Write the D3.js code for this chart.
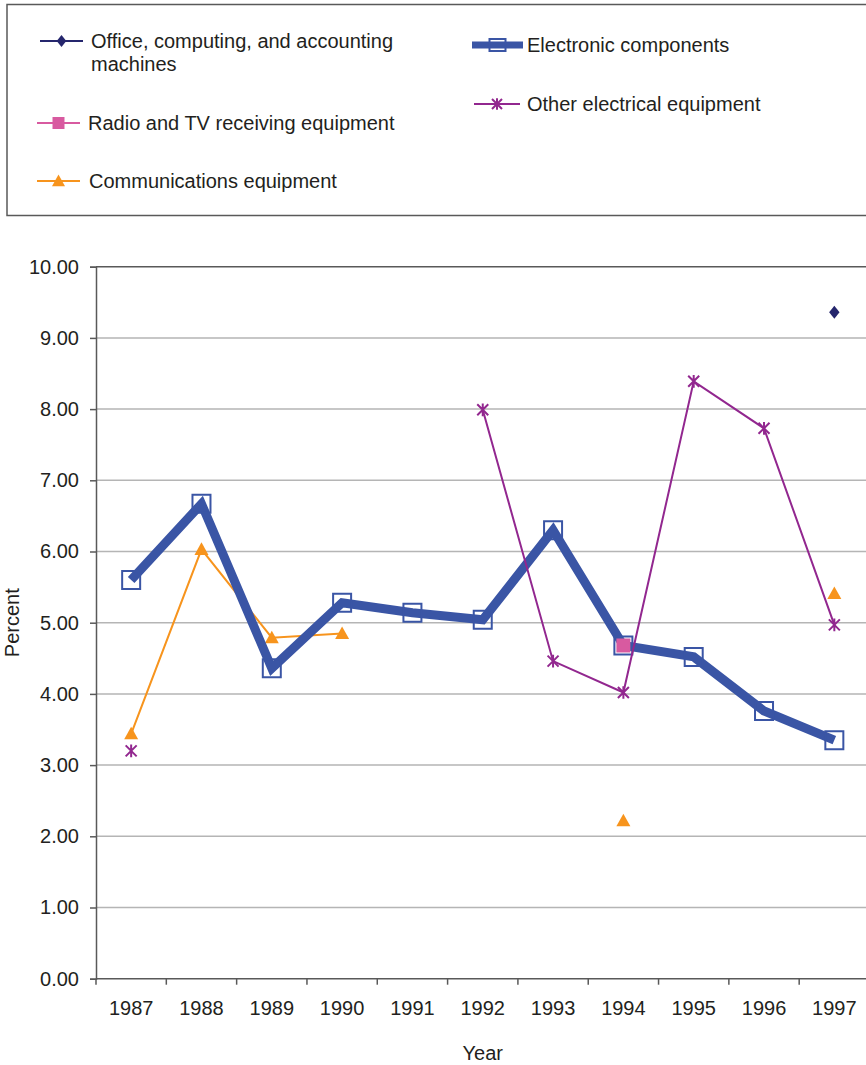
<!DOCTYPE html>
<html>
<head>
<meta charset="utf-8">
<script src="https://cdn.jsdelivr.net/npm/d3@7"></script>
<style>
  html, body { margin: 0; padding: 0; background: #fff; }
  svg { display: block; font-family: "Liberation Sans", Arial, Helvetica, sans-serif; }
</style>
</head>
<body>
<svg id="chart" width="866" height="1065"></svg>
<script>
// Annual percentages by industry, 1987–1997 (null = no value reported)
const years = ["1987", "1988", "1989", "1990", "1991", "1992", "1993", "1994", "1995", "1996", "1997"];
const office = [null, null, null, null, null, null, null, null, null, null, 9.36];
const electronic = [5.60, 6.67, 4.36, 5.28, 5.14, 5.04, 6.30, 4.68, 4.52, 3.76, 3.35];
const radioTv = [null, null, null, null, null, null, null, 4.68, null, null, null];
const communications = [3.44, 6.03, 4.79, 4.85, null, null, null, 2.22, null, null, 5.41];
const otherElectrical = [3.20, null, null, null, null, 7.99, 4.46, 4.02, 8.39, 7.73, 4.97];
const yTicks = [0, 1, 2, 3, 4, 5, 6, 7, 8, 9, 10];

const svg = d3.select("#chart");
const textColor = "#231f20";
const axisColor = "#595959";
const gridColor = "#b5b5b5";
const fontSize = 20;
const colors = {
  office: "#25266d",
  electronic: "#3a55a5",
  radio: "#d85aa0",
  comm: "#f7941d",
  other: "#92278f"
};

const plot = { left: 96, right: 869.5, top: 266.7, bottom: 978.7 };
const x = d3.scaleBand().domain(years).range([plot.left, plot.right]).padding(0);
const y = d3.scaleLinear().domain([0, 10]).range([plot.bottom, plot.top]);
const cx = yr => x(yr) + x.bandwidth() / 2;

// Horizontal gridlines
svg.append("g")
  .selectAll("line")
  .data(yTicks.filter(t => t > 0))
  .join("line")
  .attr("x1", plot.left).attr("x2", plot.right)
  .attr("y1", d => y(d)).attr("y2", d => y(d))
  .attr("stroke", d => d === 10 ? axisColor : gridColor)
  .attr("stroke-width", 1.5);

// Y axis
const yAxis = svg.append("g")
  .attr("transform", `translate(${plot.left},0)`)
  .call(d3.axisLeft(y).tickValues(yTicks).tickFormat(d3.format(".2f")).tickSize(6).tickPadding(11));
yAxis.select(".domain").attr("stroke", axisColor).attr("stroke-width", 1.5);
yAxis.selectAll(".tick line").attr("stroke", axisColor).attr("stroke-width", 1.5);
yAxis.selectAll(".tick text")
  .attr("fill", textColor).attr("font-size", fontSize).attr("font-family", null);

// X axis: ticks sit on category boundaries, labels at band centres
const xAxisG = svg.append("g").attr("transform", `translate(0,${plot.bottom})`);
xAxisG.append("line")
  .attr("x1", plot.left).attr("x2", plot.right)
  .attr("stroke", axisColor).attr("stroke-width", 1.5);
xAxisG.selectAll("line.tk")
  .data(years)
  .join("line").attr("class", "tk")
  .attr("x1", d => x(d)).attr("x2", d => x(d))
  .attr("y1", 0).attr("y2", 6)
  .attr("stroke", axisColor).attr("stroke-width", 1.5);
xAxisG.selectAll("text")
  .data(years)
  .join("text")
  .attr("x", d => cx(d)).attr("y", 36)
  .attr("text-anchor", "middle")
  .attr("font-size", fontSize).attr("fill", textColor)
  .text(d => d);

// Axis titles
svg.append("text")
  .attr("x", (plot.left + plot.right) / 2).attr("y", 1060)
  .attr("text-anchor", "middle").attr("font-size", fontSize).attr("fill", textColor)
  .text("Year");
svg.append("text")
  .attr("transform", `translate(19,${(plot.top + plot.bottom) / 2}) rotate(-90)`)
  .attr("text-anchor", "middle").attr("font-size", fontSize).attr("fill", textColor)
  .text("Percent");

// Marker shapes
const markerPath = {
  diamond: s => `M0,${-s}L${s * 0.8},0L0,${s}L${-s * 0.8},0Z`,
  square: s => `M${-s},${-s}H${s}V${s}H${-s}Z`,
  triangle: s => `M0,${-s}L${s},${s * 0.8}H${-s}Z`,
  asterisk: s => `M${-s},${-s}L${s},${s}M${s},${-s}L${-s},${s}M0,${-s * 1.15}V${s * 1.15}`
};

function drawMarker(g, kind, px, py, color, legend) {
  if (kind === "office") {
    g.append("path").attr("d", markerPath.diamond(legend ? 6 : 6.5))
      .attr("transform", `translate(${px},${py})`).attr("fill", color);
  } else if (kind === "electronic") {
    const s = legend ? 8 : 9;
    g.append("path").attr("d", legend ? `M${-s},${-6}H${s}V${6}H${-s}Z` : markerPath.square(s))
      .attr("transform", `translate(${px},${py})`)
      .attr("fill", "none").attr("stroke", color).attr("stroke-width", 2);
  } else if (kind === "radio") {
    g.append("path").attr("d", markerPath.square(legend ? 6 : 7))
      .attr("transform", `translate(${px},${py})`).attr("fill", color);
  } else if (kind === "comm") {
    g.append("path").attr("d", markerPath.triangle(legend ? 6.5 : 7))
      .attr("transform", `translate(${px},${py})`).attr("fill", color);
  } else if (kind === "other") {
    g.append("path").attr("d", markerPath.asterisk(legend ? 5 : 5.5))
      .attr("transform", `translate(${px},${py})`)
      .attr("fill", "none").attr("stroke", color).attr("stroke-width", 2);
  }
}

const line = d3.line()
  .defined(d => d.v !== null)
  .x(d => cx(d.year))
  .y(d => y(d.v));

const series = [
  { key: "comm", values: communications, width: 2 },
  { key: "electronic", values: electronic, width: 9 },
  { key: "office", values: office, width: 2 },
  { key: "other", values: otherElectrical, width: 2 },
  { key: "radio", values: radioTv, width: 2 }
];

series.forEach(s => {
  const g = svg.append("g");
  const pts = years.map((yr, i) => ({ year: yr, v: s.values[i] }));
  g.append("path")
    .datum(pts)
    .attr("d", line)
    .attr("fill", "none")
    .attr("stroke", colors[s.key])
    .attr("stroke-width", s.width)
    .attr("stroke-linejoin", "miter");
  pts.filter(p => p.v !== null).forEach(p => drawMarker(g, s.key, cx(p.year), y(p.v), colors[s.key], false));
});

// Legend
const legend = svg.append("g");
legend.append("rect")
  .attr("x", 7).attr("y", 4.5).attr("width", 870).attr("height", 211)
  .attr("fill", "none").attr("stroke", axisColor).attr("stroke-width", 1.5);

const legendItems = [
  { key: "office", lx: 40, rx: 83, my: 41, tx: 91, lines: ["Office, computing, and accounting", "machines"], ty: 48, w: 2 },
  { key: "electronic", lx: 472, rx: 523, my: 45, tx: 527, lines: ["Electronic components"], ty: 52, w: 7 },
  { key: "other", lx: 474, rx: 520, my: 104, tx: 527, lines: ["Other electrical equipment"], ty: 111, w: 2 },
  { key: "radio", lx: 37, rx: 80, my: 123, tx: 88, lines: ["Radio and TV receiving equipment"], ty: 130, w: 2 },
  { key: "comm", lx: 37, rx: 80, my: 181, tx: 89, lines: ["Communications equipment"], ty: 188, w: 2 }
];

legendItems.forEach(it => {
  const g = legend.append("g");
  g.append("line")
    .attr("x1", it.lx).attr("x2", it.rx).attr("y1", it.my).attr("y2", it.my)
    .attr("stroke", colors[it.key]).attr("stroke-width", it.w);
  drawMarker(g, it.key, (it.lx + it.rx) / 2, it.my, colors[it.key], true);
  const t = g.append("text")
    .attr("x", it.tx).attr("y", it.ty)
    .attr("font-size", fontSize).attr("fill", textColor);
  it.lines.forEach((ln, i) => {
    t.append("tspan").attr("x", it.tx).attr("dy", i === 0 ? 0 : 23).text(ln);
  });
});
</script>
</body>
</html>
